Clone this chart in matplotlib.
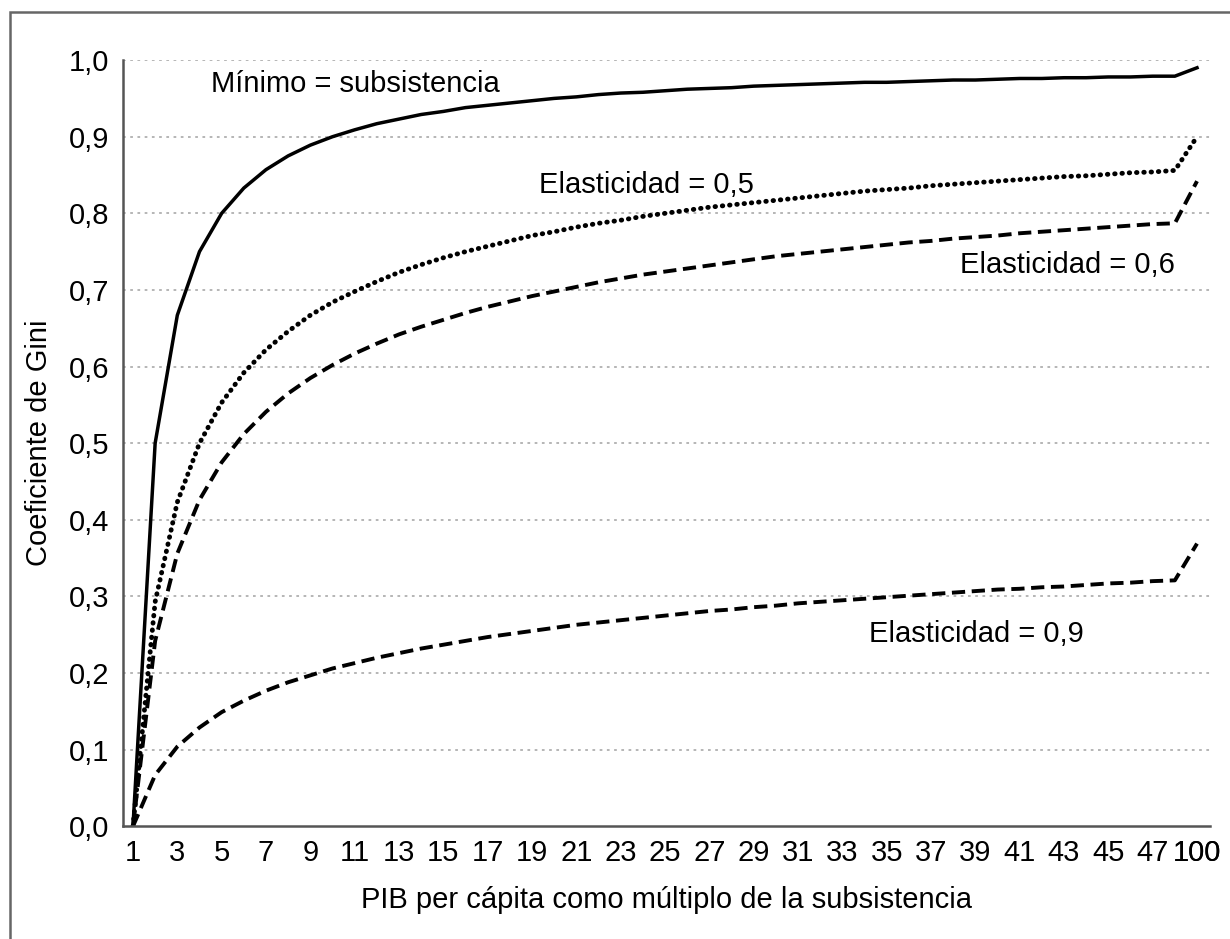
#!/usr/bin/env python3
import matplotlib.pyplot as plt
from matplotlib.patches import Rectangle

# PIB per capita como multiplo de la subsistencia (1..48 y 100)
multiplos = list(range(1, 49)) + [100]

gini_minimo = [0.0, 0.5, 0.667, 0.75, 0.8, 0.833, 0.857, 0.875, 0.889, 0.9,
               0.909, 0.917, 0.923, 0.929, 0.933, 0.938, 0.941, 0.944, 0.947, 0.95,
               0.952, 0.955, 0.957, 0.958, 0.96, 0.962, 0.963, 0.964, 0.966, 0.967,
               0.968, 0.969, 0.970, 0.971, 0.971, 0.972, 0.973, 0.974, 0.974, 0.975,
               0.976, 0.976, 0.977, 0.977, 0.978, 0.978, 0.979, 0.979, 0.99]

gini_e05 = [0.0, 0.293, 0.423, 0.5, 0.553, 0.592, 0.622, 0.646, 0.667, 0.684,
            0.698, 0.711, 0.723, 0.733, 0.742, 0.75, 0.757, 0.764, 0.771, 0.776,
            0.782, 0.787, 0.791, 0.796, 0.8, 0.804, 0.808, 0.811, 0.814, 0.817,
            0.820, 0.823, 0.826, 0.829, 0.831, 0.833, 0.836, 0.838, 0.840, 0.842,
            0.844, 0.846, 0.848, 0.849, 0.851, 0.853, 0.854, 0.856, 0.9]

gini_e06 = [0.0, 0.242, 0.356, 0.426, 0.475, 0.512, 0.541, 0.565, 0.585, 0.602,
            0.617, 0.630, 0.642, 0.652, 0.661, 0.670, 0.678, 0.685, 0.692, 0.698,
            0.704, 0.710, 0.715, 0.720, 0.724, 0.728, 0.732, 0.736, 0.740, 0.744,
            0.747, 0.75, 0.753, 0.756, 0.759, 0.762, 0.764, 0.767, 0.769, 0.771,
            0.774, 0.776, 0.778, 0.780, 0.782, 0.784, 0.786, 0.787, 0.842]

gini_e09 = [0.0, 0.067, 0.104, 0.129, 0.149, 0.164, 0.177, 0.188, 0.197, 0.206,
            0.213, 0.220, 0.226, 0.232, 0.237, 0.242, 0.247, 0.251, 0.255, 0.259,
            0.263, 0.266, 0.269, 0.272, 0.275, 0.278, 0.281, 0.283, 0.286, 0.288,
            0.291, 0.293, 0.295, 0.297, 0.299, 0.301, 0.303, 0.305, 0.307, 0.309,
            0.310, 0.312, 0.313, 0.315, 0.317, 0.318, 0.320, 0.321, 0.369]

y_ticks = [0.0, 0.1, 0.2, 0.3, 0.4, 0.5, 0.6, 0.7, 0.8, 0.9, 1.0]
y_labels = ['0,0', '0,1', '0,2', '0,3', '0,4', '0,5', '0,6', '0,7', '0,8', '0,9', '1,0']

plt.rcParams['font.family'] = ['Liberation Sans', 'DejaVu Sans']
plt.rcParams['font.size'] = 21

fig = plt.figure(figsize=(12.3, 9.39), dpi=100)
ax = fig.add_axes([0.100, 0.120, 0.884, 0.816])

# marco exterior gris
fig.patches.append(Rectangle((10 / 1230, -0.05), 1.2, 1 - 12 / 939 + 0.05,
                             transform=fig.transFigure, fill=False,
                             edgecolor='#666666', linewidth=1.8))

pos = list(range(len(multiplos)))

ax.plot(pos, gini_minimo, color='black', linewidth=2.5)
ax.plot(pos, gini_e05, color='black', linewidth=3.5,
        linestyle=(0, (0.1, 1.4)), dash_capstyle='round')
ax.plot(pos, gini_e06, color='black', linewidth=2.8, linestyle=(0, (3.4, 1.7)))
ax.plot(pos, gini_e09, color='black', linewidth=2.8, linestyle=(0, (3.4, 1.7)))

ax.text(3.5, 0.969, 'Mínimo = subsistencia', va='center', ha='left')
ax.text(18.3, 0.837, 'Elasticidad = 0,5', va='center', ha='left')
ax.text(47.0, 0.733, 'Elasticidad = 0,6', va='center', ha='right')
ax.text(33.2, 0.251, 'Elasticidad = 0,9', va='center', ha='left')

ax.set_xlim(-0.45, 48.6)
ax.set_ylim(0, 1.0)
ax.set_xticks(pos[::2] + [pos[-1]])
ax.set_xticklabels([str(m) for m in multiplos[::2]] + ['100'])
ax.set_yticks(y_ticks)
ax.set_yticklabels(y_labels)
ax.tick_params(length=0)
ax.tick_params(axis='y', pad=10)
ax.tick_params(axis='x', pad=9)

for y in y_ticks[1:]:
    ax.axhline(y, color='#b0b0b0', linewidth=1.3, linestyle=(0, (1.5, 2.5)), zorder=0)

for s in ['top', 'right']:
    ax.spines[s].set_visible(False)
for s in ['left', 'bottom']:
    ax.spines[s].set_color('#555555')
    ax.spines[s].set_linewidth(1.8)

ax.set_xlabel('PIB per cápita como múltiplo de la subsistencia', labelpad=14)
ax.set_ylabel('Coeficiente de Gini', labelpad=11)

fig.savefig('out.png', dpi=100)
